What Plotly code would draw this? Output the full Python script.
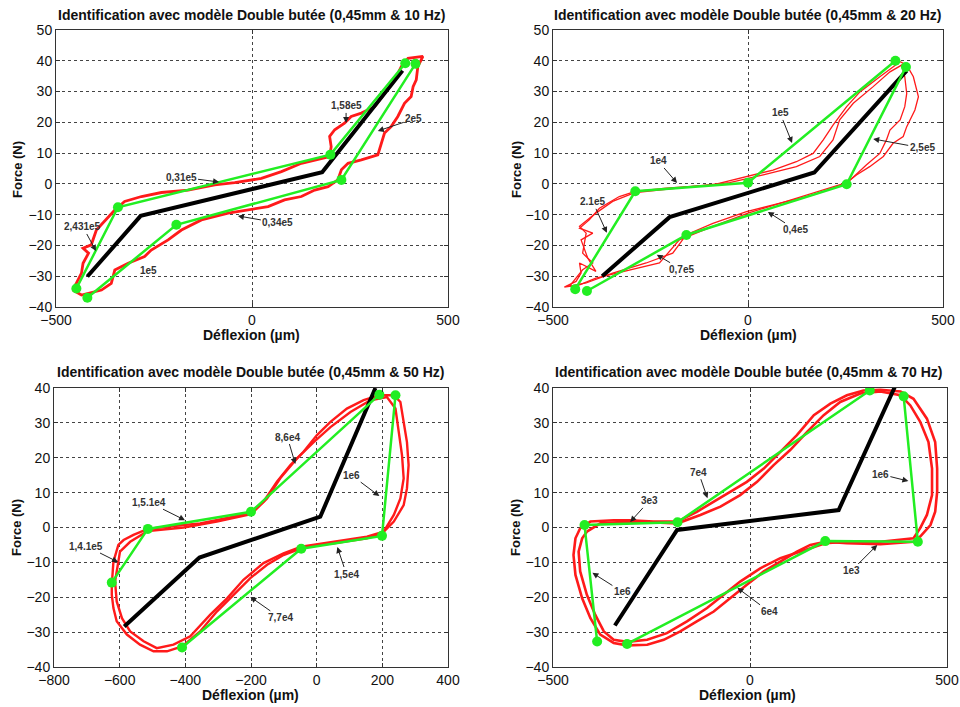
import plotly.graph_objects as go

# ---------------- data ----------------
# Subplot 1 : 10 Hz
s1_red_x = [-457, -435, -431, -417, -431, -410, -397, -376, -350, -325, -282, -231, -163, -95, -44, 24, 75, 126, 177, 198,
            202, 198, 211, 236, 253, 279, 313, 338, 364, 381, 398, 436,
            423, 419, 411, 406, 389, 372, 355, 338, 330, 321, 279, 245, 228, 219, 194, 160, 126, 83, 41, -10, -61,
            -129, -180, -214, -257, -274, -316, -350, -359, -384, -418, -435, -457]
s1_red_y = [-34.5, -29, -25.8, -22.5, -20.9, -19.8, -15, -12.2, -8.5, -5.7, -4.1, -2.8, -2, -0.3, 0.4, 1.8, 4, 6.7, 8.3, 8.9,
            12.1, 15.4, 17.6, 19.7, 21.9, 23, 25.1, 29.5, 33.8, 38.1, 40.8, 41.4,
            38.1, 33.8, 31.6, 28.4, 26.2, 21.9, 18.6, 16.5, 13.2, 9.4, 7.8, 6.7, 4.6, 1.3, -0.9, -2, -4.1, -5.2, -7.4, -8.5, -9.5,
            -11.7, -15, -18.2, -21.5, -23.6, -25.8, -28, -32.3, -34.5, -35.5, -36.1, -34.5]
s1_green_up_x = [-448, -342, 200, 391]
s1_green_up_y = [-34, -7.6, 9.5, 39.2]
s1_green_lo_x = [417, 228, -193, -420]
s1_green_lo_y = [39, 1.3, -13.3, -37]
s1_black_x = [-420, -284, 179, 384]
s1_black_y = [-30.1, -10.4, 3.8, 36.8]

# Subplot 2 : 20 Hz (two cycles)
s2_red1_x = [-471, -441, -428, -432, -390, -411, -428, -398, -432, -407, -381, -330, -289, -210, -90, 0, 64, 124, 167, 193,
             218, 253, 287, 338, 372, 390, 407, 424, 437, 428, 407, 398, 372, 347, 312, 278, 253, 167, 81, 0, -90,
             -176, -227, -304, -390, -432, -471]
s2_red1_y = [-33.5, -31.7, -29, -25.7, -28.4, -24.1, -18.2, -16, -14.4, -11.7, -7.9, -4.1, -2.4, -1.4, -0.3, 2.4, 4.5, 7.2,
             9.9, 14.3, 19.1, 25.1, 29.9, 34.8, 38.1, 39.7, 38.6, 34.8, 28.3, 24, 18.6, 15.4, 13.2, 8.9, 5.6, 2.9, 0.4,
             -3, -6.3, -9.5, -13.8, -18.2, -25.7, -27.9, -30.6, -32.8, -33.5]
s2_red2_x = [-458, -424, -398, -424, -415, -432, -390, -347, -289, -176, -47, 39, 124, 184, 218, 235, 270, 321, 364, 394,
             402, 407, 402, 390, 364, 355, 338, 304, 270, 253, 167, 64, -4, -90, -158, -193, -261, -347, -415, -458]
s2_red2_y = [-33.3, -27.9, -25.7, -22.5, -16, -13.8, -9.5, -5.7, -2.8, -1.4, 0.4, 2.9, 5.6, 8.9, 14.3, 20.8, 26.2, 31.6,
             36.4, 38.6, 34.8, 29.4, 25.1, 20.8, 17.5, 14.3, 9.9, 6.2, 2.4, 0.2, -3.6, -6.8, -9, -12.8, -16.5, -22.5,
             -25.7, -29, -32.2, -33.3]
s2_green_up_x = [-443, -289, 0, 378]
s2_green_up_y = [-34.2, -2.4, 0.4, 40]
s2_green_lo_x = [405, 253, -158, -413]
s2_green_lo_y = [38, -0.1, -16.6, -34.8]
s2_black_x = [-374, -201, 170, 407]
s2_black_y = [-30, -10.8, 3.7, 36.8]

# Subplot 3 : 50 Hz (two cycles)
s3_red1_x = [-624, -619, -604, -588, -558, -514, -456, -355, -253, -200, -162, -121, -80, -40, 1, 42, 92, 143, 191, 235,
             255, 265, 275, 280, 275, 265, 235, 199, 153, 52, 1, -47, -101, -151, -202, -253, -304, -355, -410, -456,
             -497, -538, -578, -609, -619, -624, -624]
s3_red1_y = [-16.4, -9.8, -5, -3.6, -2.1, -0.4, 0.2, 1.2, 3.1, 4.5, 7.4, 13.1, 17.9, 21.7, 26.5, 30.3, 34.1, 36.5, 37.9,
             37.9, 36, 30.3, 24.5, 17.9, 11.2, 6.4, 1.7, -1.7, -3.1, -4.5, -5, -6, -7.9, -10.7, -14.5, -19.3, -24.1,
             -29.8, -34.1, -35.5, -35.5, -33.6, -30.7, -26.9, -23.1, -19.3, -16.4]
s3_red2_x = [-614, -599, -568, -514, -405, -304, -200, -151, -111, -60, -9, 42, 103, 164, 214, 240, 250, 260, 265, 255,
             235, 204, 153, 52, -47, -101, -162, -223, -273, -324, -385, -436, -487, -527, -568, -593, -609, -614]
s3_red2_y = [-15.5, -6.9, -4.1, -1, 0, 1.7, 3.8, 8.3, 14.1, 19.8, 24.5, 28.8, 33.1, 36.5, 37.4, 34.1, 27.4, 20.7, 14.1,
             8.3, 3.6, -1.2, -2.6, -4.1, -5.5, -7.4, -10.2, -15, -20.3, -25, -31.2, -33.6, -34.6, -32.6, -29.8, -26,
             -21.2, -15.5]
s3_green_up_x = [-624, -514, -200, 191]
s3_green_up_y = [-15.8, -0.4, 4.5, 38.1]
s3_green_lo_x = [240, 199, -47, -410]
s3_green_lo_y = [37.9, -2.4, -6.1, -34.4]
s3_black_x = [-586, -357, 11, 179]
s3_black_y = [-28.4, -8.6, 3.1, 40]

# Subplot 4 : 70 Hz (two cycles)
s4_red1_x = [-431, -405, -346, -304, -245, -184, -135, -92, -50, -8, 35, 77, 119, 162, 204, 246, 288, 331, 382, 415, 449,
             470, 475, 475, 470, 458, 432, 415, 373, 331, 246, 191, 153, 119, 77, 35, -8, -50, -92, -135, -177, -219,
             -261, -312, -346, -380, -405, -426, -443, -448, -443, -431]
s4_red1_y = [-0.2, 1.7, 2.1, 2.1, 1.7, 1.7, 4.5, 7.4, 10.2, 13.1, 16.9, 21.7, 26.5, 32.2, 35.5, 37.9, 39.3, 39.5, 39,
             36.9, 31.2, 24.5, 16.9, 10.2, 4.5, 0.7, -2.6, -4.1, -4.5, -4.8, -4.5, -4.1, -5, -6.9, -9.8, -12.6, -16.4,
             -20.3, -24.1, -26.9, -29.8, -32.2, -33.6, -33.8, -33.1, -30.7, -26, -20.3, -13.6, -7.9, -3.1, -0.2]
s4_red2_x = [-414, -380, -304, -184, -126, -75, -25, 18, 60, 102, 145, 187, 229, 280, 331, 382, 407, 432, 453, 462, 462,
             449, 432, 415, 331, 246, 191, 128, 77, 26, -25, -67, -109, -160, -211, -261, -312, -346, -371, -393, -414,
             -431, -435, -426, -414]
s4_red2_y = [-1.2, 1.2, 1.7, 1.2, 3.6, 6, 9.3, 13.1, 17.9, 22.2, 27.4, 32.2, 36, 38.4, 39, 37.9, 35, 30.3, 24.5, 16.9,
             9.3, 3.6, -0.2, -3.1, -4.1, -4.1, -4.5, -6.9, -8.8, -11.7, -15.5, -19.3, -23.1, -26.9, -30.3, -32.2, -32.8,
             -32.2, -29.8, -25, -19.3, -12.6, -6.9, -3.1, -1.2]
s4_green_up_x = [-388, -420, -184, 304]
s4_green_up_y = [-32.7, 0.7, 1.5, 39.3]
s4_green_lo_x = [390, 426, 191, -312]
s4_green_lo_y = [37.6, -4.1, -3.9, -33.4]
s4_black_x = [-343, -185, 225, 380]
s4_black_y = [-28.1, -0.7, 5, 43.4]

titles = ["Identification avec modèle Double butée (0,45mm & 10 Hz)",
          "Identification avec modèle Double butée (0,45mm & 20 Hz)",
          "Identification avec modèle Double butée (0,45mm & 50 Hz)",
          "Identification avec modèle Double butée (0,45mm & 70 Hz)"]

# annotations: (label, head x, head y, text offset px x, text offset px y)
s1_notes = [("1,58e5", 240, 19.8, 0, -17), ("2e5", 321, 17.2, 36, -12), ("0,31e5", -84, 0.6, -38, -5),
            ("0,34e5", -36, -10.4, 40, 7), ("2,431e5", -398, -21.8, -13, -24)]
s1_plain = [("1e5", -265, -28.3)]
s2_notes = [("1e5", 113, 13.3, -12, -30), ("1e4", -182, 0.3, -19, -22), ("2.1e5", -362, -15.9, -14, -31),
            ("2,5e5", 321, 14.6, 49, 9), ("0,4e5", 51, -9.1, 28, 18), ("0,7e5", -234, -23, 25, 15)]
s3_notes = [("8,6e4", -65, 18.2, -8, -27), ("1e6", 191, 9, -28, -21), ("1,5.1e4", -401, 2.1, -36, -18),
            ("1,4.1e5", -605, -9.9, -32, -16), ("1,5e4", 63, -5.6, 9, 27), ("7,7e4", -202, -19.9, 30, 21)]
s4_notes = [("7e4", -108, 8.4, -9, -26), ("3e3", -304, 1.6, 19, -21), ("1e6", 402, 13.3, -28, -7),
            ("1e6", -400, -13, 30, 19), ("1e3", 323, -5, -26, 26), ("6e4", -32, -17.3, 32, 24)]

# ---------------- figure ----------------
W, H = 960, 707
RED = "#ff1a1a"
GREEN = "#22ee22"
FONT = "Liberation Sans, Arial"

fig = go.Figure()


def add_line(x, y, ax, color, width, markers=False):
    fig.add_trace(go.Scatter(
        x=x, y=y, xaxis="x" + ax, yaxis="y" + ax,
        mode="lines+markers" if markers else "lines",
        line=dict(color=color, width=width),
        marker=dict(color=color, size=10),
        showlegend=False, hoverinfo="skip"))


# subplot 1
add_line(s1_red_x, s1_red_y, "", RED, 2.8)
add_line(s1_black_x, s1_black_y, "", "black", 4)
add_line(s1_green_up_x, s1_green_up_y, "", GREEN, 2.5, True)
add_line(s1_green_lo_x, s1_green_lo_y, "", GREEN, 2.5, True)
# subplot 2
add_line(s2_red1_x, s2_red1_y, "2", RED, 1.3)
add_line(s2_red2_x, s2_red2_y, "2", RED, 1.3)
add_line(s2_black_x, s2_black_y, "2", "black", 4)
add_line(s2_green_up_x, s2_green_up_y, "2", GREEN, 2.5, True)
add_line(s2_green_lo_x, s2_green_lo_y, "2", GREEN, 2.5, True)
# subplot 3
add_line(s3_red1_x, s3_red1_y, "3", RED, 2.4)
add_line(s3_red2_x, s3_red2_y, "3", RED, 2.4)
add_line(s3_black_x, s3_black_y, "3", "black", 4)
add_line(s3_green_up_x, s3_green_up_y, "3", GREEN, 2.5, True)
add_line(s3_green_lo_x, s3_green_lo_y, "3", GREEN, 2.5, True)
# subplot 4
add_line(s4_red1_x, s4_red1_y, "4", RED, 2.6)
add_line(s4_red2_x, s4_red2_y, "4", RED, 2.6)
add_line(s4_black_x, s4_black_y, "4", "black", 4)
add_line(s4_green_up_x, s4_green_up_y, "4", GREEN, 2.5, True)
add_line(s4_green_lo_x, s4_green_lo_y, "4", GREEN, 2.5, True)

# plot areas in pixels: (left, right, top, bottom)
areas = [(56, 448, 30, 307), (553, 943, 30, 307), (54, 448, 388, 667), (553, 947, 388, 667)]
xranges = [[-500, 500], [-500, 500], [-800, 400], [-500, 500]]
yranges = [[-40, 50], [-40, 50], [-40, 40], [-40, 40]]
xdticks = [500, 500, 200, 500]

axcommon = dict(showline=True, linecolor="#333333", linewidth=1, mirror="ticks", ticks="inside", ticklen=4,
                tickcolor="#333333", showgrid=True, gridcolor="#444444", griddash="dot", gridwidth=1,
                zeroline=False, automargin=False,
                tickfont=dict(family=FONT, size=14, color="#111111"))

for i, (l, r, t, b) in enumerate(areas):
    sfx = "" if i == 0 else str(i + 1)
    fig.layout["xaxis" + sfx] = dict(domain=[l / W, r / W], range=xranges[i], dtick=xdticks[i],
                                     anchor="y" + sfx, **axcommon)
    fig.layout["yaxis" + sfx] = dict(domain=[1 - b / H, 1 - t / H], range=yranges[i], dtick=10,
                                     anchor="x" + sfx, **axcommon)

annots = []
title_pos = [(251, 15), (747, 15), (250, 372), (748, 372)]
ylab_pos = [(18, 170), (517, 170), (16, 528), (515, 528)]
xlab_pos = [(251, 335), (748, 335), (250, 695), (747, 695)]
for i in range(4):
    tx, ty = title_pos[i]
    annots.append(dict(text="<b>" + titles[i] + "</b>", x=tx / W, y=1 - ty / H, xref="paper", yref="paper",
                       showarrow=False, font=dict(family=FONT, size=14, color="#111111"),
                       xanchor="center", yanchor="middle"))
    lx, ly = ylab_pos[i]
    annots.append(dict(text="<b>Force (N)</b>", x=lx / W, y=1 - ly / H, xref="paper", yref="paper",
                       showarrow=False, textangle=-90,
                       font=dict(family=FONT, size=13, color="#111111"),
                       xanchor="center", yanchor="middle"))
    xx, xy = xlab_pos[i]
    annots.append(dict(text="<b>Déflexion (µm)</b>", x=xx / W, y=1 - xy / H, xref="paper", yref="paper",
                       showarrow=False, font=dict(family=FONT, size=14, color="#111111"),
                       xanchor="center", yanchor="middle"))

note_font = dict(family=FONT, size=10, color="#333333")
for sfx, notes in [("", s1_notes), ("2", s2_notes), ("3", s3_notes), ("4", s4_notes)]:
    for (txt, hx, hy, ox, oy) in notes:
        annots.append(dict(text="<b>" + txt + "</b>", x=hx, y=hy, xref="x" + sfx, yref="y" + sfx,
                           ax=ox, ay=oy, showarrow=True, arrowhead=2, arrowsize=1.2, arrowwidth=1,
                           arrowcolor="#222222", font=note_font))
for (txt, px, py) in s1_plain:
    annots.append(dict(text="<b>" + txt + "</b>", x=px, y=py, xref="x", yref="y", showarrow=False, font=note_font))

fig.update_layout(width=W, height=H, margin=dict(l=0, r=0, t=0, b=0, autoexpand=False), plot_bgcolor="white",
                  paper_bgcolor="white", annotations=annots, showlegend=False)

fig.write_html("out.html", config={"displayModeBar": False},
               post_script="document.body.style.margin='0px';document.body.style.overflow='hidden';")
